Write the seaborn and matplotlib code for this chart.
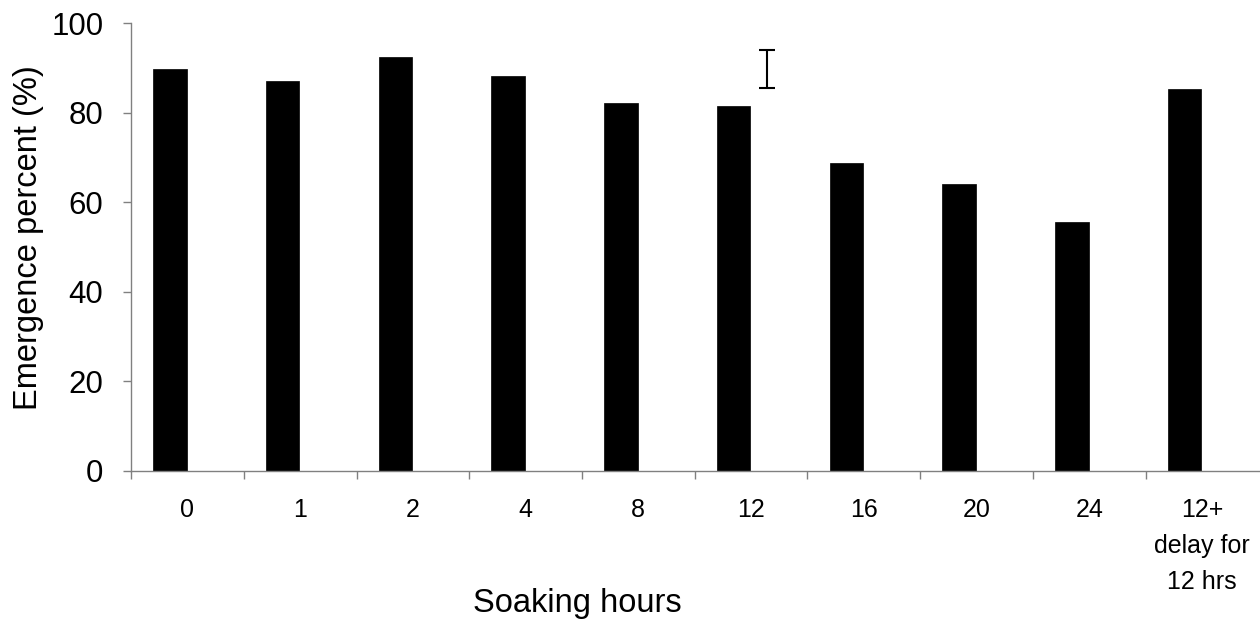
import numpy as np
import pandas as pd
import matplotlib
matplotlib.use("Agg")
import matplotlib.pyplot as plt
import seaborn as sns

# soaking treatments and emergence (%)
hours = ["0", "1", "2", "4", "8", "12", "16", "20", "24", "12+\ndelay for\n12 hrs"]
emergence = [89.7, 87.2, 92.5, 88.2, 82.1, 81.6, 68.7, 64.1, 55.5, 85.3]

# LSD bar drawn next to the 12 h bar
lsd_center = 89.85
lsd_half = 4.25

sns.set_style("white")
plt.rcParams["font.family"] = ["Liberation Sans", "DejaVu Sans"]
plt.rcParams["text.color"] = "black"
plt.rcParams["axes.labelcolor"] = "black"
plt.rcParams["xtick.color"] = "black"
plt.rcParams["ytick.color"] = "black"

df = pd.DataFrame({"hours": hours, "emergence": emergence})

fig = plt.figure(figsize=(12.6, 6.19), dpi=100)
ax = fig.add_axes([0.104, 0.2396, 0.896, 0.7228])

sns.barplot(data=df, x="hours", y="emergence", color="black", width=0.296,
            saturation=1, edgecolor="black", linewidth=0.5, ax=ax)

# Excel-style: bar sits on the left half of each category slot
for p in ax.patches:
    p.set_x(p.get_x() - 0.155)

ax.errorbar(5 + 0.14, lsd_center, yerr=lsd_half, fmt="none", ecolor="black",
            elinewidth=1.5, capsize=5.8, capthick=1.5)

ax.set_xlim(-0.5, 9.514)
ax.set_ylim(0, 100)
ax.set_yticks(np.arange(0, 101, 20))

# ticks between categories, labels at the centres
ax.set_xticks(np.arange(len(hours)))
ax.set_xticklabels(hours, fontsize=18, linespacing=1.62, va="top")
ax.set_xticks(np.arange(len(hours)) - 0.5, minor=True)
ax.tick_params(axis="x", which="major", bottom=False, length=0, pad=20)
ax.tick_params(axis="x", which="minor", bottom=True, length=6, width=1,
               color="#808080", direction="out")
ax.tick_params(axis="y", left=True, length=6, width=1, color="#808080",
               direction="out", labelsize=22.5, pad=14)

for side in ["top", "right"]:
    ax.spines[side].set_visible(False)
for side in ["left", "bottom"]:
    ax.spines[side].set_color("#808080")
    ax.spines[side].set_linewidth(1)

ax.set_xlabel("Soaking hours", fontsize=23.5)
ax.xaxis.set_label_coords(0.395, -0.262)
ax.set_ylabel("Emergence percent (%)", fontsize=23.5)
ax.yaxis.set_label_coords(-0.077, 0.522)

fig.savefig("out.png", dpi=100)
